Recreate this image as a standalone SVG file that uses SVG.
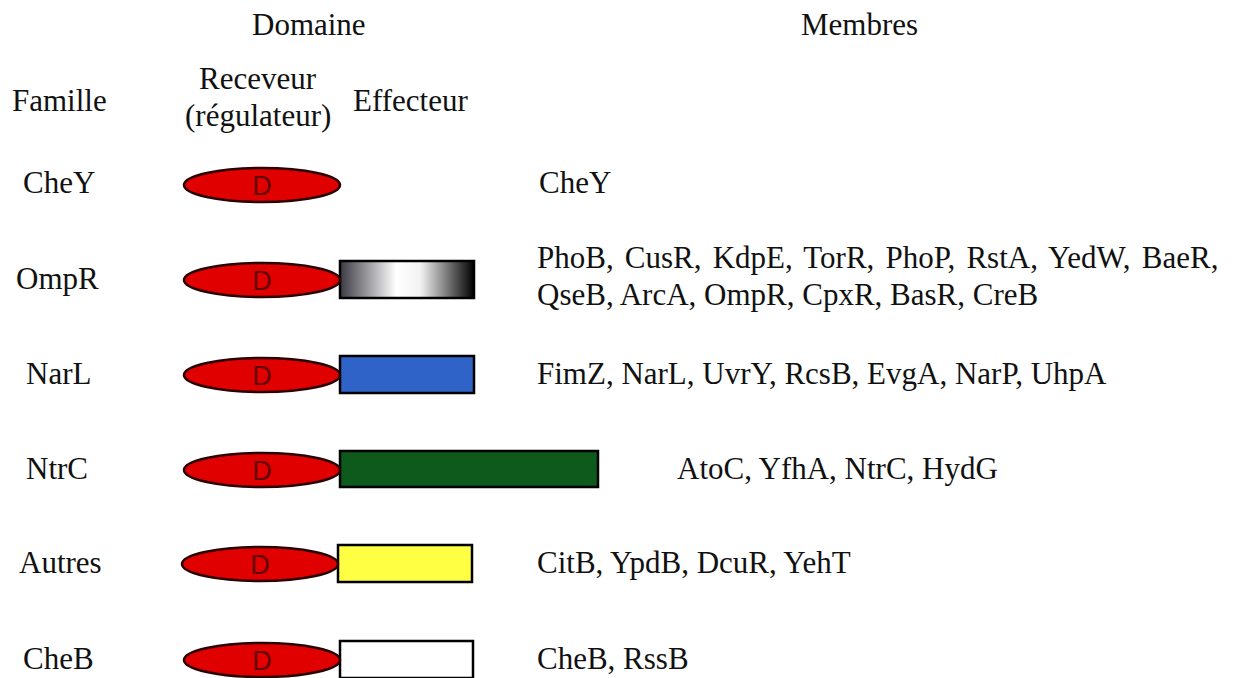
<svg xmlns="http://www.w3.org/2000/svg" width="1256" height="678" viewBox="0 0 1256 678">
<defs>
<linearGradient id="gradOmpR" x1="0" y1="0" x2="1" y2="0">
<stop offset="0" stop-color="#3a3a42"/>
<stop offset="0.42" stop-color="#ffffff"/>
<stop offset="0.6" stop-color="#f2f2f2"/>
<stop offset="1" stop-color="#000000"/>
</linearGradient>
<style>
.t{font-family:"Liberation Serif","Times New Roman",serif;font-size:31px;fill:#111}
.d{font-family:"Liberation Sans",Arial,sans-serif;font-size:27px;fill:#620000;text-anchor:middle}
.rec{fill:#e00000;stroke:#2a0000;stroke-width:2.5}
.eff{stroke:#000;stroke-width:2.5}
</style>
</defs>
<rect width="1256" height="678" fill="#ffffff"/>
<g id="headers">
<text class="t" x="252" y="35">Domaine</text>
<text class="t" x="801" y="35">Membres</text>
<text class="t" x="12" y="111">Famille</text>
<text class="t" x="199" y="89">Receveur</text>
<text class="t" x="185" y="126">(régulateur)</text>
<text class="t" x="353" y="111">Effecteur</text>
</g>
<g id="row-chey">
<text class="t" x="23" y="193">CheY</text>
<ellipse class="rec" cx="262" cy="185" rx="78" ry="17"/>
<text class="d" x="262" y="194.5">D</text>
<text class="t" x="539" y="193">CheY</text>
</g>
<g id="row-ompr">
<text class="t" x="16" y="289">OmpR</text>
<rect class="eff" x="340" y="261" width="134" height="37" fill="url(#gradOmpR)"/>
<ellipse class="rec" cx="262" cy="280" rx="78" ry="17"/>
<text class="d" x="262" y="289.5">D</text>
<text class="t" x="537" y="268" word-spacing="3.4">PhoB, CusR, KdpE, TorR, PhoP, RstA, YedW, BaeR,</text>
<text class="t" x="537" y="305">QseB, ArcA, OmpR, CpxR, BasR, CreB</text>
</g>
<g id="row-narl">
<text class="t" x="26" y="384">NarL</text>
<rect class="eff" x="340" y="356" width="134" height="37" fill="#2f63c8"/>
<ellipse class="rec" cx="262" cy="375" rx="78" ry="17"/>
<text class="d" x="262" y="384.5">D</text>
<text class="t" x="537" y="384">FimZ, NarL, UvrY, RcsB, EvgA, NarP, UhpA</text>
</g>
<g id="row-ntrc">
<text class="t" x="26" y="479">NtrC</text>
<rect class="eff" x="340" y="451" width="258" height="36" fill="#0d5a1c"/>
<ellipse class="rec" cx="262" cy="470" rx="78" ry="17"/>
<text class="d" x="262" y="479.5">D</text>
<text class="t" x="677" y="479">AtoC, YfhA, NtrC, HydG</text>
</g>
<g id="row-autres">
<text class="t" x="19" y="573">Autres</text>
<rect class="eff" x="338" y="545" width="134" height="37" fill="#ffff44"/>
<ellipse class="rec" cx="260" cy="564" rx="78" ry="17"/>
<text class="d" x="260" y="573.5">D</text>
<text class="t" x="537" y="573">CitB, YpdB, DcuR, YehT</text>
</g>
<g id="row-cheb">
<text class="t" x="23" y="669">CheB</text>
<rect class="eff" x="340" y="641" width="133" height="37" fill="#ffffff"/>
<ellipse class="rec" cx="262" cy="660" rx="78" ry="17"/>
<text class="d" x="262" y="669.5">D</text>
<text class="t" x="537" y="669">CheB, RssB</text>
</g>
<g id="connectors"/>
</svg>
